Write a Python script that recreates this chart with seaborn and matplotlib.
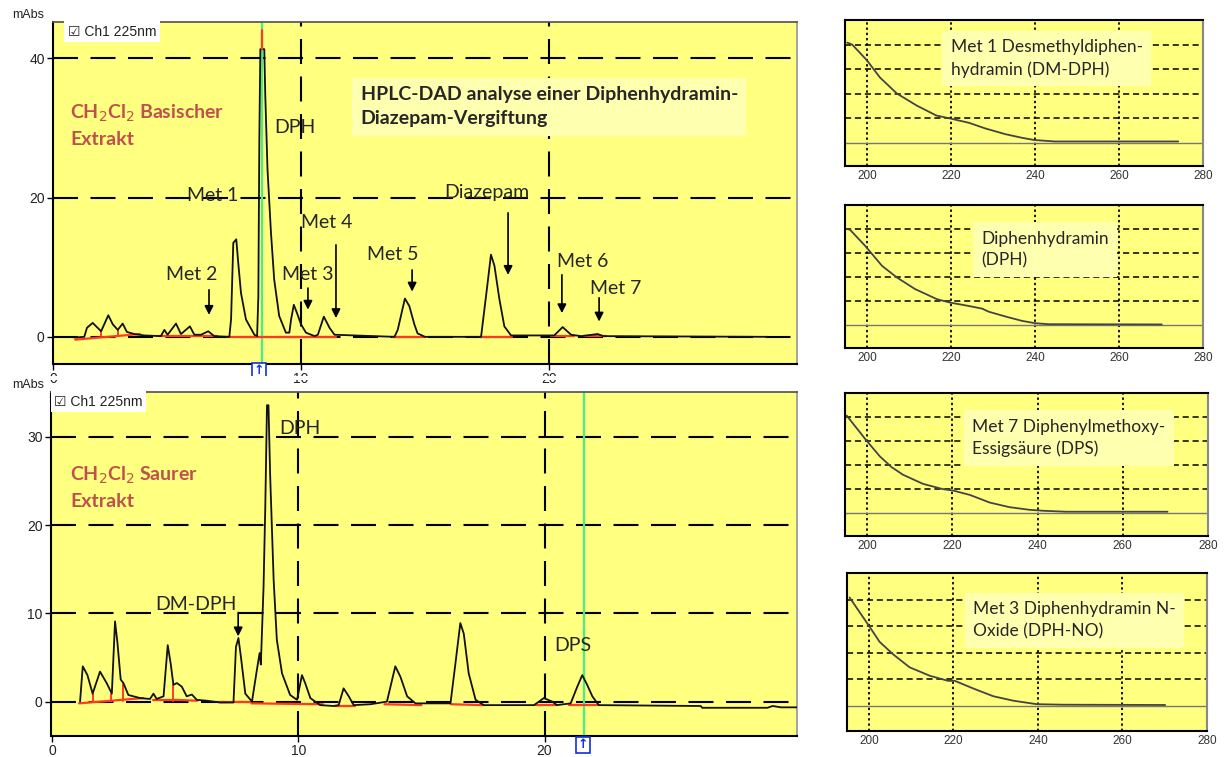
import matplotlib
matplotlib.use("Agg")
import matplotlib.pyplot as plt
import seaborn as sns
from matplotlib.patches import Rectangle

# ================================
# DATA
# ================================
# basic extract chromatogram: retention time (min), signal (mAbs)
top_time = [0.85, 1.26, 1.37, 1.6, 1.94, 2.23, 2.41, 2.61, 2.81, 2.98, 3.28, 3.68, 4.35, 4.49, 4.62,
            4.96, 5.16, 5.52, 5.7, 5.97, 6.26, 6.5, 7.11, 7.18, 7.27, 7.39, 7.47, 7.58, 7.78, 8.12,
            8.23, 8.28, 8.32, 8.36, 8.52, 8.56, 8.65, 8.79, 8.92, 9.12, 9.39, 9.53, 9.6, 9.71, 9.84,
            10.0, 10.2, 10.55, 10.68, 10.92, 11.15, 11.35, 13.77, 13.9, 14.19, 14.37, 14.57, 14.7,
            15.0, 17.26, 17.5, 17.66, 17.8, 18.0, 18.2, 18.47, 20.21, 20.55, 20.89, 21.3, 21.96,
            22.2, 28.8]
top_abs = [-0.1, 0.0, 1.3, 2.0, 0.8, 3.1, 1.8, 1.0, 1.9, 0.7, 0.4, 0.2, 0.1, 1.0, 0.3,
           1.9, 0.4, 1.5, 0.3, 0.3, 0.8, 0.1, 0.0, 2.5, 13.5, 14.0, 10.6, 6.3, 2.5, 0.3,
           0.1, 5.8, 28.4, 41.3, 41.3, 34.6, 24.0, 14.9, 8.2, 3.0, 0.6, 0.6, 2.5, 4.6, 3.4,
           1.8, 0.6, 0.1, 0.3, 2.9, 1.3, 0.3, 0.0, 1.0, 5.5, 4.4, 1.8, 0.5,
           0.0, 0.0, 7.0, 11.8, 10.2, 5.4, 1.5, 0.2, 0.2, 1.4, 0.3, 0.1, 0.4,
           0.1, 0.0]
# integration baselines (red), start/end time and level
top_base_t0 = [0.9, 4.2, 7.0, 8.2, 9.5, 13.7, 17.2, 20.1, 21.4]
top_base_t1 = [3.5, 6.6, 8.2, 9.5, 11.4, 15.0, 18.5, 21.0, 22.3]
top_base_y0 = [-0.4, 0.1, 0.0, 0.0, 0.0, 0.0, 0.0, 0.1, 0.1]
top_base_y1 = [0.4, 0.1, 0.0, 0.0, 0.0, 0.0, 0.0, 0.1, 0.1]
top_drop_t = [1.94, 2.61]
top_drop_y = [0.8, 1.0]

# acid extract chromatogram
bot_time = [1.14, 1.25, 1.44, 1.65, 1.95, 2.22, 2.43, 2.56, 2.66, 2.79, 2.9, 3.1, 3.58, 3.98, 4.12,
            4.25, 4.53, 4.7, 4.82, 4.93, 5.07, 5.27, 5.47, 5.68, 5.88, 6.29, 6.83, 7.37, 7.47, 7.57,
            7.67, 7.85, 8.12, 8.32, 8.43, 8.48, 8.59, 8.66, 8.73, 8.79, 8.86, 9.0, 9.13, 9.34, 9.67,
            9.95, 10.15, 10.28, 10.49, 10.89, 11.44, 11.64, 11.84, 12.05, 12.25, 12.93, 13.6, 13.94,
            14.15, 14.42, 14.76, 16.18, 16.38, 16.58, 16.72, 16.92, 17.2, 17.53, 19.57, 19.97, 20.31,
            20.5, 21.06, 21.33, 21.53, 21.73, 21.94, 22.2, 26.34, 26.4, 29.05, 29.26, 29.6, 30.3]
bot_abs = [0.0, 4.0, 3.0, 0.9, 3.4, 2.1, 0.9, 9.1, 6.6, 2.5, 2.1, 0.75, 0.4, 0.3, 0.9,
           0.3, 0.6, 6.4, 4.3, 1.9, 2.1, 1.7, 0.6, 0.8, 0.2, 0.1, -0.1, -0.1, 6.2, 7.2,
           5.1, 0.9, 0.0, 3.6, 5.5, 4.2, 13.0, 22.0, 33.6, 33.6, 25.5, 13.8, 7.0, 3.2, 0.75,
           0.2, 3.0, 2.1, 0.4, -0.4, -0.5, -0.4, 1.5, 0.6, -0.4, -0.3, 0.0, 4.0,
           2.8, 0.6, -0.2, -0.2, 4.3, 8.9, 7.7, 3.2, 0.2, -0.4, -0.4, 0.4, 0.0,
           -0.4, -0.2, 1.7, 3.0, 1.9, 0.6, -0.4, -0.5, -0.7, -0.7, -0.5, -0.65, -0.65]
bot_base_t0 = [1.1, 4.1, 4.95, 6.8, 8.1, 11.5, 13.5, 16.2, 19.6, 21.0]
bot_base_t1 = [3.7, 4.95, 5.9, 8.1, 11.0, 12.3, 15.0, 17.5, 20.5, 22.2]
bot_base_y0 = [-0.2, 0.2, 0.2, -0.1, -0.2, -0.5, -0.3, -0.3, -0.4, -0.4]
bot_base_y1 = [0.4, 0.2, 0.1, -0.1, -0.3, -0.5, -0.4, -0.4, -0.4, -0.4]
bot_drop_t = [1.65, 2.38, 2.87, 4.93]
bot_drop_y = [0.9, 0.9, 2.0, 1.9]

# UV spectra (wavelength nm, relative absorbance)
spec_dmdph_nm = [195.3, 196.5, 200.0, 203.1, 207.1, 211.8, 216.5, 220.0, 224.3, 228.2, 232.9, 236.9, 239.8, 244.7, 274.1]
spec_dmdph_abs = [4.08, 4.0, 3.36, 2.66, 2.01, 1.52, 1.11, 0.98, 0.81, 0.58, 0.35, 0.2, 0.11, 0.05, 0.05]
spec_dph_nm = [195.2, 196.0, 199.6, 203.6, 207.1, 211.5, 216.7, 219.8, 224.2, 227.4, 229.0, 233.0, 236.9, 240.1, 243.3, 270.2]
spec_dph_abs = [4.0, 3.97, 3.3, 2.47, 1.99, 1.5, 1.08, 0.94, 0.8, 0.69, 0.56, 0.36, 0.18, 0.08, 0.04, 0.03]
spec_dps_nm = [195.2, 199.8, 203.0, 205.7, 208.4, 213.1, 217.8, 220.2, 224.1, 228.8, 233.4, 238.1, 241.3, 246.7, 270.5]
spec_dps_abs = [4.06, 3.03, 2.36, 1.92, 1.6, 1.22, 1.0, 0.94, 0.76, 0.44, 0.25, 0.14, 0.1, 0.06, 0.06]
spec_dphno_nm = [195.4, 200.0, 202.5, 205.7, 209.6, 214.4, 218.7, 220.3, 224.7, 229.4, 234.2, 239.7, 246.0, 270.1]
spec_dphno_abs = [4.08, 3.01, 2.41, 1.94, 1.45, 1.13, 0.94, 0.94, 0.65, 0.36, 0.19, 0.06, 0.04, 0.03]

spec_titles = ["Met 1 Desmethyldiphen-\nhydramin (DM-DPH)",
               "Diphenhydramin\n(DPH)",
               "Met 7 Diphenylmethoxy-\nEssigsäure (DPS)",
               "Met 3 Diphenhydramin N-\nOxide (DPH-NO)"]

# ================================
# STYLE
# ================================
sns.set_theme(style="white")
plt.rcParams['font.family'] = ['Lato', 'DejaVu Sans']

W, H = 1227, 757
YELLOW = "#FFFF80"
RED_TXT = "#C0504D"
BASE_RED = "#FF3B1F"
GREEN = "#44EE88"
TICK_FONT = ['Liberation Sans', 'DejaVu Sans']

fig = plt.figure(figsize=(W / 100, H / 100), dpi=100)
fig.patch.set_facecolor("white")


def px_axes(l, t, r, b):
    return fig.add_axes([l / W, 1 - b / H, (r - l) / W, (b - t) / H])


def px_text(x, y, s, **kw):
    fig.text(x / W, 1 - y / H, s, **kw)


def chrom_frame(ax, xlim, ylim, yticks):
    ax.set_facecolor(YELLOW)
    ax.set_xlim(*xlim)
    ax.set_ylim(*ylim)
    for yv in yticks:
        ax.axhline(yv, color="black", lw=1.5, ls=(0, (12, 6)), zorder=1)
    for xv in [10, 20]:
        ax.axvline(xv, color="black", lw=1.5, ls=(0, (12, 6)), zorder=1)
    ax.set_yticks(yticks)
    ax.set_xticks([0, 10, 20])
    ax.tick_params(axis="both", which="both", length=4, width=1, color="black",
                   labelsize=10, labelcolor="#222222", pad=2, left=True, bottom=True)
    for lab in ax.get_xticklabels() + ax.get_yticklabels():
        lab.set_family(TICK_FONT)
    ax.spines["left"].set_color("black")
    ax.spines["bottom"].set_color("black")
    ax.spines["left"].set_linewidth(1.5)
    ax.spines["bottom"].set_linewidth(1.5)
    ax.spines["top"].set_color("#555555")
    ax.spines["right"].set_color("#999999")
    ax.set_xlabel("")
    ax.set_ylabel("")


def draw_trace(ax, t, a, bt0, bt1, by0, by1, dt, dy):
    for x0, x1, y0, y1 in zip(bt0, bt1, by0, by1):
        ax.plot([x0, x1], [y0, y1], color=BASE_RED, lw=1.6, zorder=2)
    for x0, y0 in zip(dt, dy):
        ax.plot([x0, x0], [0.1, y0], color=BASE_RED, lw=1.4, zorder=2)
    sns.lineplot(x=t, y=a, ax=ax, color="#111111", lw=1.3, estimator=None, sort=False, zorder=3)


def arrow(ax, x, y0, y1):
    ax.annotate("", xy=(x, y1), xytext=(x, y0),
                arrowprops=dict(arrowstyle="-|>", color="black", lw=1.2,
                                mutation_scale=13, shrinkA=0, shrinkB=0), zorder=5)


# ================================
# TOP CHROMATOGRAM
# ================================
ax1 = px_axes(53, 22, 797, 364)
chrom_frame(ax1, (0, 30.0), (-3.9, 45.2), [0, 20, 40])
ax1.axvline(8.43, color=GREEN, lw=1.6, zorder=2)
draw_trace(ax1, top_time, top_abs, top_base_t0, top_base_t1, top_base_y0, top_base_y1, top_drop_t, top_drop_y)
ax1.plot([8.43, 8.43], [41.3, 44.0], color=BASE_RED, lw=1.6, zorder=4)

ax1.text(0.6, 44.8, "\u2611 Ch1 225nm", family=TICK_FONT, fontsize=10, va="top", ha="left", color="#222222",
         bbox=dict(facecolor="white", edgecolor="none", pad=2.5), zorder=6)
ax1.text(0.7, 30.4, "CH$_2$Cl$_2$ Basischer\nExtrakt", color=RED_TXT, fontsize=14, fontweight="bold",
         va="center", ha="left", linespacing=1.5, zorder=6)
ax1.text(12.4, 33.0, "HPLC-DAD analyse einer Diphenhydramin-\nDiazepam-Vergiftung", fontsize=14,
         fontweight="bold", va="center", ha="left", linespacing=1.5, zorder=6,
         bbox=dict(facecolor="#FFFFB0", edgecolor="none", pad=6))

top_labels = [("DPH", 9.76, 30.0), ("Met 1", 6.45, 20.3), ("Met 2", 5.6, 8.9), ("Met 3", 10.28, 8.9),
              ("Met 4", 11.05, 16.4), ("Met 5", 13.7, 11.8), ("Diazepam", 17.5, 20.7),
              ("Met 6", 21.37, 10.8), ("Met 7", 22.7, 6.9)]
for s, x, y in top_labels:
    ax1.text(x, y, s, fontsize=14, ha="center", va="center", zorder=6)
for x, y0, y1 in [(6.29, 6.75, 3.16), (10.28, 7.0, 3.9), (11.41, 13.2, 2.7), (14.48, 9.6, 6.5),
                  (18.35, 17.8, 8.9), (20.52, 8.9, 3.4), (22.02, 5.6, 2.2)]:
    arrow(ax1, x, y0, y1)

# ================================
# BOTTOM CHROMATOGRAM
# ================================
ax2 = px_axes(51, 392, 797, 736)
chrom_frame(ax2, (-0.04, 30.25), (-3.9, 35.1), [0, 10, 20, 30])
ax2.axvline(21.59, color=GREEN, lw=1.6, zorder=2)
draw_trace(ax2, bot_time, bot_abs, bot_base_t0, bot_base_t1, bot_base_y0, bot_base_y1, bot_drop_t, bot_drop_y)

ax2.text(0.1, 34.8, "\u2611 Ch1 225nm", family=TICK_FONT, fontsize=10, va="top", ha="left", color="#222222",
         bbox=dict(facecolor="white", edgecolor="none", pad=2.5), zorder=6)
ax2.text(0.75, 24.3, "CH$_2$Cl$_2$ Saurer\nExtrakt", color=RED_TXT, fontsize=14, fontweight="bold",
         va="center", ha="left", linespacing=1.5, zorder=6)
for s, x, y in [("DPH", 10.08, 31.0), ("DM-DPH", 5.85, 11.0), ("DPS", 21.14, 6.4)]:
    ax2.text(x, y, s, fontsize=14, ha="center", va="center", zorder=6)
arrow(ax2, 7.56, 10.1, 7.4)

# crop the lower part of the upper time axis like in the original screenshot
fig.patches.append(Rectangle((0, 1 - 380 / H), 800 / W, 4 / H, transform=fig.transFigure,
                             facecolor="white", edgecolor="none", zorder=10))

# axis unit labels and cursor markers
px_text(12, 15, "mAbs", family=TICK_FONT, fontsize=9, color="#222222", va="center")
px_text(12, 385, "mAbs", family=TICK_FONT, fontsize=9, color="#222222", va="center", zorder=11)
for x, y in [(259, 371), (583, 745)]:
    px_text(x, y, "\u2191", fontsize=9, fontweight="bold", color="#1030E0", ha="center", va="center",
            family=["DejaVu Sans"],
            bbox=dict(facecolor="white", edgecolor="#1030E0", lw=1.2, boxstyle="square,pad=0.15"))

# ================================
# UV SPECTRA
# ================================
spec_boxes = [(845, 20, 1203, 166), (845, 205, 1203, 348), (845, 393, 1208, 536), (847, 573, 1207, 731)]
spec_data = [(spec_dmdph_nm, spec_dmdph_abs), (spec_dph_nm, spec_dph_abs),
             (spec_dps_nm, spec_dps_abs), (spec_dphno_nm, spec_dphno_abs)]
spec_text_pos = [(0.295, 0.87), (0.38, 0.82), (0.35, 0.82), (0.35, 0.82)]

for (l, t, r, b), (nm, ab), title, (tx, ty) in zip(spec_boxes, spec_data, spec_titles, spec_text_pos):
    ax = px_axes(l, t, r, b)
    ax.set_facecolor(YELLOW)
    ax.set_xlim(194.8, 280)
    ax.set_ylim(-0.95, 5.0)
    for xv in [200, 220, 240, 260]:
        ax.axvline(xv, color="black", lw=1.3, ls=(0, (1.3, 1.6)), zorder=1)
    for yv in [1, 2, 3, 4]:
        ax.axhline(yv, color="black", lw=1.1, ls=(0, (4, 2.5)), zorder=1)
    ax.axhline(0, color="#777777", lw=1.0, zorder=2)
    sns.lineplot(x=nm, y=ab, ax=ax, color="#444444", lw=1.3, estimator=None, sort=False, zorder=3)
    ax.set_xticks([200, 220, 240, 260, 280])
    ax.set_yticks([])
    ax.tick_params(axis="x", length=0, labelsize=8.5, labelcolor="#333333", pad=3)
    for lab in ax.get_xticklabels():
        lab.set_family(TICK_FONT)
    for sp in ax.spines.values():
        sp.set_color("black")
        sp.set_linewidth(1.5)
    ax.spines["right"].set_color("#888888")
    ax.set_xlabel("")
    ax.set_ylabel("")
    ax.text(tx, ty, title, transform=ax.transAxes, fontsize=12.5, ha="left", va="top",
            linespacing=1.45, zorder=6,
            bbox=dict(facecolor="#FFFFB0", edgecolor="none", pad=6))

fig.savefig("out.png", dpi=100)
